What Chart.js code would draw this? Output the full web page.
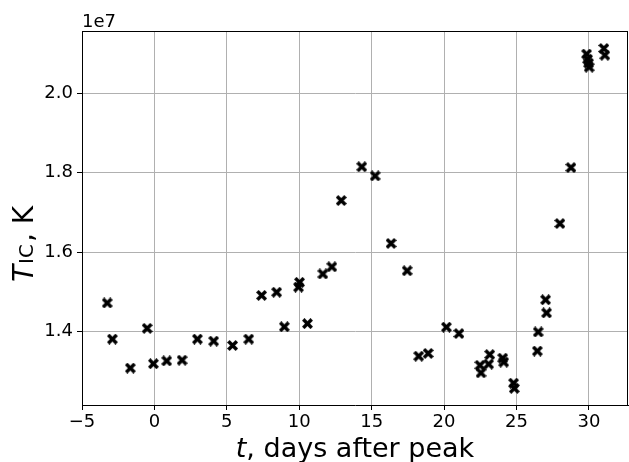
<!DOCTYPE html>
<html>
<head>
<meta charset="utf-8">
<script src="https://cdn.jsdelivr.net/npm/chart.js@4.4.1/dist/chart.umd.min.js"></script>
<style>
    html, body { margin: 0; padding: 0; background: #ffffff; }
    #wrap { width: 629px; height: 462px; position: relative; }
</style>
</head>
<body>
<div id="wrap"><canvas id="tempCanvas" width="629" height="462"></canvas></div>
<script>
// Inverse-Compton temperature vs. time since peak
const tDays = [
    -3.26, -2.90, -1.66, -0.50, -0.07, 0.85, 1.91, 2.97, 4.09, 5.40,
    6.51, 7.40, 8.44, 8.97, 9.95, 10.02, 10.57, 11.63, 12.25, 12.90,
    14.32, 15.24, 16.34, 17.45, 18.25, 18.90, 20.16, 21.03, 22.48, 22.55,
    23.08, 23.15, 24.05, 24.12, 24.80, 24.85, 26.44, 26.50, 27.01, 27.08,
    28.00, 28.76, 29.84, 29.91, 29.98, 30.02, 31.03, 31.10
];
const tempK = [
    1.472e7, 1.381e7, 1.308e7, 1.408e7, 1.319e7, 1.326e7, 1.328e7, 1.381e7, 1.376e7, 1.365e7,
    1.381e7, 1.491e7, 1.499e7, 1.412e7, 1.512e7, 1.524e7, 1.420e7, 1.545e7, 1.563e7, 1.730e7,
    1.815e7, 1.792e7, 1.622e7, 1.553e7, 1.338e7, 1.345e7, 1.411e7, 1.395e7, 1.315e7, 1.296e7,
    1.318e7, 1.342e7, 1.333e7, 1.323e7, 1.270e7, 1.257e7, 1.351e7, 1.399e7, 1.480e7, 1.447e7,
    1.672e7, 1.813e7, 2.099e7, 2.086e7, 2.076e7, 2.066e7, 2.113e7, 2.096e7
];
const xTicks = [-5, 0, 5, 10, 15, 20, 25, 30];
const yTicks = [1.4e7, 1.6e7, 1.8e7, 2.0e7];
const yScaleFactor = 1e7;

const FONT = "'DejaVu Sans', 'Liberation Sans', sans-serif";

// filled "X" marker
function makeCrossMarker() {
    const c = document.createElement('canvas');
    c.width = 11;
    c.height = 11;
    const g = c.getContext('2d');
    g.strokeStyle = '#000000';
    g.lineWidth = 3.5;
    g.lineCap = 'square';
    g.beginPath();
    g.moveTo(2.5, 2.5); g.lineTo(8.5, 8.5);
    g.moveTo(8.5, 2.5); g.lineTo(2.5, 8.5);
    g.stroke();
    return c;
}

// spines on top/right, offset label and axis titles with italic / subscript parts
const decorPlugin = {
    id: 'decor',
    afterDraw(chart) {
        const ctx = chart.ctx;
        const a = chart.chartArea;
        ctx.save();
        ctx.strokeStyle = '#000000';
        ctx.lineWidth = 1;
        ctx.beginPath();
        ctx.moveTo(a.left, Math.round(a.top) + 0.5);
        ctx.lineTo(a.right, Math.round(a.top) + 0.5);
        ctx.moveTo(Math.round(a.right) - 0.5, a.top);
        ctx.lineTo(Math.round(a.right) - 0.5, a.bottom);
        ctx.stroke();

        ctx.fillStyle = '#000000';
        ctx.textBaseline = 'alphabetic';

        // offset text above the y axis
        ctx.font = `18px ${FONT}`;
        ctx.textAlign = 'left';
        ctx.fillText('1e7', a.left, a.top - 4);

        // x title: "t, days after peak"
        const big = 27;
        ctx.font = `italic ${big}px ${FONT}`;
        const wT = ctx.measureText('t').width;
        ctx.font = `${big}px ${FONT}`;
        const rest = ', days after peak';
        const wRest = ctx.measureText(rest).width;
        const cx = (a.left + a.right) / 2;
        let x0 = cx - (wT + wRest) / 2;
        ctx.font = `italic ${big}px ${FONT}`;
        ctx.fillText('t', x0, 457);
        ctx.font = `${big}px ${FONT}`;
        ctx.fillText(rest, x0 + wT, 457);

        // y title: "T_IC, K", rotated
        ctx.translate(33, 282);
        ctx.rotate(-Math.PI / 2);
        let p = 0;
        ctx.font = `italic 28px ${FONT}`;
        ctx.fillText('T', p, 0);
        p += ctx.measureText('T').width + 1;
        ctx.font = `20px ${FONT}`;
        ctx.fillText('IC', p, 0);
        p += ctx.measureText('IC').width + 2;
        ctx.font = `28px ${FONT}`;
        ctx.fillText(', K', p, 0);
        ctx.restore();
    }
};

function buildChart() {
    const points = tDays.map((t, i) => ({ x: t, y: tempK[i] }));
    const ctx = document.getElementById('tempCanvas').getContext('2d');

    return new Chart(ctx, {
        type: 'scatter',
        data: {
            datasets: [{
                data: points,
                pointStyle: makeCrossMarker(),
                pointRadius: 5,
                pointHoverRadius: 5,
                backgroundColor: '#000000',
                borderColor: '#000000'
            }]
        },
        options: {
            responsive: false,
            animation: false,
            events: [],
            layout: { autoPadding: false, padding: { left: 0, right: 1, top: 31, bottom: 0 } },
            plugins: {
                legend: { display: false },
                tooltip: { enabled: false }
            },
            scales: {
                x: {
                    type: 'linear',
                    min: -5.0,
                    max: 32.7,
                    afterBuildTicks: scale => { scale.ticks = xTicks.map(v => ({ value: v })); },
                    afterFit: scale => {
                        scale.height = 57;
                        scale.paddingLeft = 0;
                        scale.paddingRight = 0;
                    },
                    grid: { color: '#b0b0b0', lineWidth: 1, tickColor: '#000000', tickLength: 5, tickWidth: 1 },
                    border: { display: true, color: '#000000', width: 1 },
                    ticks: {
                        color: '#000000',
                        font: { family: FONT, size: 18 },
                        padding: 2,
                        maxRotation: 0,
                        callback: v => (v < 0 ? '\u2212' + Math.abs(v) : String(v))
                    }
                },
                y: {
                    type: 'linear',
                    min: 1.215e7,
                    max: 2.157e7,
                    afterBuildTicks: scale => { scale.ticks = yTicks.map(v => ({ value: v })); },
                    afterFit: scale => {
                        scale.width = 82;
                        scale.paddingTop = 0;
                        scale.paddingBottom = 0;
                    },
                    grid: { color: '#b0b0b0', lineWidth: 1, tickColor: '#000000', tickLength: 5, tickWidth: 1 },
                    border: { display: true, color: '#000000', width: 1 },
                    ticks: {
                        color: '#000000',
                        font: { family: FONT, size: 18 },
                        padding: 4,
                        callback: v => (v / yScaleFactor).toFixed(1)
                    }
                }
            }
        },
        plugins: [decorPlugin]
    });
}

window.addEventListener('DOMContentLoaded', buildChart);
</script>
</body>
</html>
